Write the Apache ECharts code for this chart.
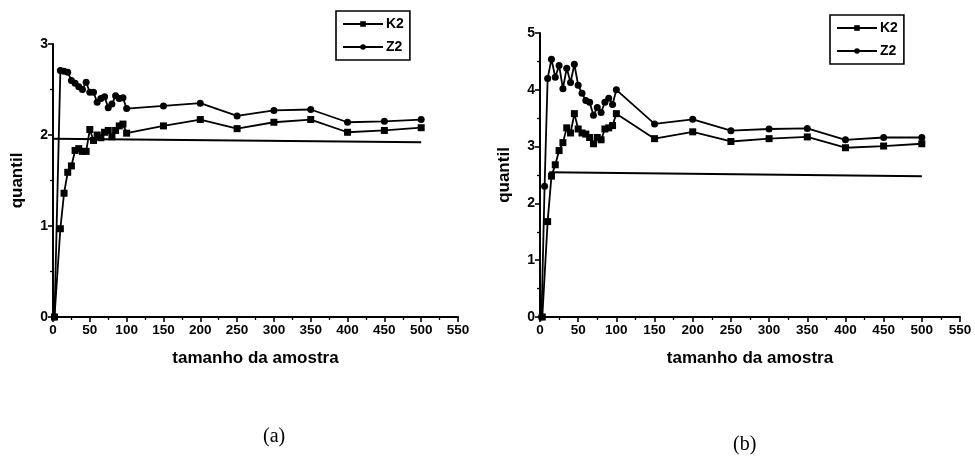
<!DOCTYPE html>
<html>
<head>
<meta charset="utf-8">
<script src="https://cdn.jsdelivr.net/npm/echarts@6/dist/echarts.min.js"></script>
<style>
html,body{margin:0;padding:0;background:#fff;}
#chart{width:975px;height:468px;}
</style>
</head>
<body>
<div id="chart"></div>
<script>
// ---- Data ----
const xTicks = [0, 50, 100, 150, 200, 250, 300, 350, 400, 450, 500, 550];

// Panel (a)
const a_x   = [2, 10, 15, 20, 25, 30, 35, 40, 45, 50, 55, 60, 65, 70, 75, 80, 85, 90, 95, 100, 150, 200, 250, 300, 350, 400, 450, 500];
const a_K2  = [0, 0.97, 1.36, 1.59, 1.66, 1.83, 1.85, 1.82, 1.82, 2.06, 1.94, 2.00, 1.97, 2.03, 2.05, 1.98, 2.05, 2.10, 2.12, 2.02, 2.10, 2.17, 2.07, 2.14, 2.17, 2.03, 2.05, 2.08];
const a_Z2  = [0, 2.71, 2.70, 2.69, 2.60, 2.57, 2.53, 2.50, 2.58, 2.47, 2.47, 2.36, 2.40, 2.42, 2.30, 2.34, 2.43, 2.40, 2.41, 2.29, 2.32, 2.35, 2.21, 2.27, 2.28, 2.14, 2.15, 2.17];
const a_refX = [0, 500];
const a_refY = [1.96, 1.92];

// Panel (b)
const b_xK2 = [3, 10, 15, 20, 25, 30, 35, 40, 45, 50, 55, 60, 65, 70, 75, 80, 85, 90, 95, 100, 150, 200, 250, 300, 350, 400, 450, 500];
const b_K2  = [0, 1.68, 2.48, 2.68, 2.93, 3.07, 3.33, 3.24, 3.58, 3.31, 3.24, 3.22, 3.16, 3.05, 3.16, 3.12, 3.31, 3.33, 3.37, 3.58, 3.14, 3.26, 3.09, 3.14, 3.17, 2.98, 3.01, 3.05];
const b_xZ2 = [2, 6, 10, 15, 20, 25, 30, 35, 40, 45, 50, 55, 60, 65, 70, 75, 80, 85, 90, 95, 100, 150, 200, 250, 300, 350, 400, 450, 500];
const b_Z2  = [0, 2.30, 4.20, 4.54, 4.22, 4.43, 4.02, 4.38, 4.13, 4.45, 4.08, 3.94, 3.81, 3.78, 3.55, 3.69, 3.60, 3.78, 3.85, 3.74, 4.00, 3.40, 3.48, 3.28, 3.31, 3.32, 3.12, 3.16, 3.16];
const b_refX = [12, 500];
const b_refY = [2.55, 2.48];

const seriesNames = ['K2', 'Z2'];
const panelLabels = ['(a)', '(b)'];

// ---- Build ----
const zip = (xs, ys) => xs.map((x, i) => [x, ys[i]]);
const FONT = '"Liberation Sans", Arial, sans-serif';
const black = '#000';

function xAxisCfg(gi) {
  return {
    gridIndex: gi, type: 'value', min: 0, max: 550, interval: 50,
    name: 'tamanho da amostra', nameLocation: 'middle', nameGap: 33,
    nameTextStyle: {fontFamily: FONT, fontWeight: 'bold', fontSize: 17, color: black},
    axisLine: {show: true, onZero: false, lineStyle: {color: black, width: 2}},
    axisTick: {show: true, inside: false, length: 5, lineStyle: {color: black, width: 1.6}},
    minorTick: {show: true, splitNumber: 2, length: 3, lineStyle: {color: black, width: 1.3}},
    axisLabel: {fontFamily: FONT, fontWeight: 'bold', fontSize: 13.5, color: black, margin: 6,
      formatter: v => xTicks.includes(v) ? String(v) : ''},
    splitLine: {show: false}
  };
}
function yAxisCfg(gi, max) {
  return {
    gridIndex: gi, type: 'value', min: 0, max: max, interval: 1,
    name: 'quantil', nameLocation: 'middle', nameGap: 27,
    nameTextStyle: {fontFamily: FONT, fontWeight: 'bold', fontSize: 17, color: black},
    axisLine: {show: true, lineStyle: {color: black, width: 2}},
    axisTick: {show: true, inside: false, length: 5, lineStyle: {color: black, width: 1.6}},
    minorTick: {show: true, splitNumber: 2, length: 3, lineStyle: {color: black, width: 1.3}},
    axisLabel: {fontFamily: FONT, fontWeight: 'bold', fontSize: 14, color: black, margin: 5},
    splitLine: {show: false}
  };
}
function dataSeries(name, gi, data, symbol) {
  return {
    name: name, type: 'line', xAxisIndex: gi, yAxisIndex: gi, data: data,
    symbol: symbol, symbolSize: 7, showSymbol: true,
    lineStyle: {color: black, width: 1.8}, itemStyle: {color: black},
    emphasis: {disabled: true}, animation: false, z: 3
  };
}
function refSeries(gi, data) {
  return {
    name: 'ref' + gi, type: 'line', xAxisIndex: gi, yAxisIndex: gi, data: data,
    symbol: 'none', lineStyle: {color: black, width: 2}, animation: false, z: 2
  };
}
function legendCfg(left, top) {
  return {
    data: seriesNames, orient: 'vertical', left: left, top: top,
    borderColor: black, borderWidth: 1.6, padding: [6, 6, 6, 6], itemGap: 9,
    itemWidth: 40, itemHeight: 7, selectedMode: false,
    textStyle: {fontFamily: FONT, fontWeight: 'bold', fontSize: 14, color: black, padding: [0, 0, 0, -2]}
  };
}

const option = {
  backgroundColor: '#fff',
  animation: false,
  grid: [
    {left: 53, top: 44, width: 405, height: 273},
    {left: 540, top: 33, width: 420, height: 284}
  ],
  xAxis: [xAxisCfg(0), xAxisCfg(1)],
  yAxis: [yAxisCfg(0, 3), yAxisCfg(1, 5)],
  legend: [legendCfg(336, 11), legendCfg(830, 15)],
  series: [
    refSeries(0, zip(a_refX, a_refY)),
    dataSeries('K2', 0, zip(a_x, a_K2), 'rect'),
    dataSeries('Z2', 0, zip(a_x, a_Z2), 'circle'),
    refSeries(1, zip(b_refX, b_refY)),
    dataSeries('K2', 1, zip(b_xK2, b_K2), 'rect'),
    dataSeries('Z2', 1, zip(b_xZ2, b_Z2), 'circle')
  ],
  graphic: [
    {type: 'text', left: 263, top: 427, style: {text: panelLabels[0], font: '20px "Liberation Serif", serif', fill: black}},
    {type: 'text', left: 733, top: 435, style: {text: panelLabels[1], font: '20px "Liberation Serif", serif', fill: black}}
  ]
};

const chart = echarts.init(document.getElementById('chart'), null, {renderer: 'canvas'});
chart.setOption(option);
</script>
</body>
</html>
